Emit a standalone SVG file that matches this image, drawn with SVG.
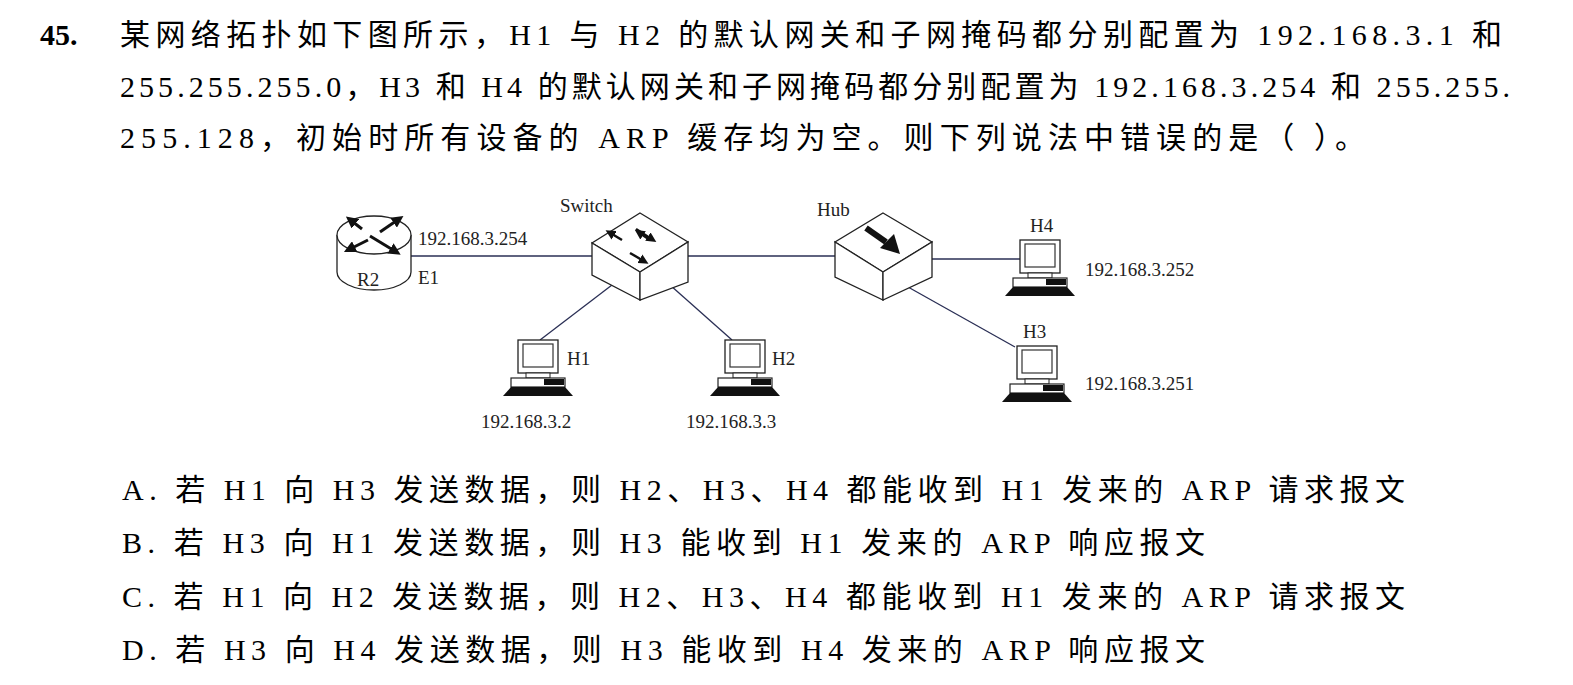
<svg xmlns="http://www.w3.org/2000/svg" xmlns:xlink="http://www.w3.org/1999/xlink" width="1573" height="685" viewBox="0 0 1573 685">
<style>
.q{font-family:"Liberation Serif","Noto Sans CJK SC",serif;font-size:30px;fill:#000}
.l{font-family:"Liberation Serif",serif;font-size:19px;fill:#222}
.ln{stroke:#2a2f55;stroke-width:1.3;fill:none}
.dev{fill:#fff;stroke:#222;stroke-width:1.3}
</style>
<defs>
<g id="pc">
<rect x="0" y="0" width="40" height="33" fill="#fff" stroke="#222" stroke-width="1.3"/>
<rect x="5" y="4" width="30" height="23" fill="#fff" stroke="#333" stroke-width="1.2"/>
<rect x="8" y="33" width="24" height="5" fill="#fff" stroke="#222" stroke-width="1"/>
<rect x="-7" y="38" width="54" height="9" fill="#fff" stroke="#222" stroke-width="1.2"/>
<rect x="26" y="39" width="20" height="6" fill="#111"/>
<polygon points="-7,47 47,47 55,56 -15,56" fill="#111"/>
</g>
<marker id="ah" markerWidth="4" markerHeight="4" refX="1" refY="2" orient="auto"><path d="M0,0 L4,2 L0,4 z" fill="#111"/></marker>
</defs>
<text class="q" x="40" y="45" font-weight="bold">45.</text>
<text class="q" x="120" y="45" textLength="1382" lengthAdjust="spacing">某网络拓扑如下图所示，H1 与 H2 的默认网关和子网掩码都分别配置为 192.168.3.1 和</text>
<text class="q" x="120" y="97" textLength="1390" lengthAdjust="spacing">255.255.255.0，H3 和 H4 的默认网关和子网掩码都分别配置为 192.168.3.254 和 255.255.</text>
<text class="q" x="120" y="148" textLength="1245" lengthAdjust="spacing">255.128，初始时所有设备的 ARP 缓存均为空。则下列说法中错误的是（   ）。</text>
<g id="connectors">
<line class="ln" x1="411" y1="256" x2="592" y2="256"/>
<line class="ln" x1="688" y1="256" x2="835" y2="256"/>
<line class="ln" x1="932" y1="259" x2="1020" y2="259"/>
<line class="ln" x1="908" y1="287" x2="1015" y2="347"/>
<line class="ln" x1="612" y1="285" x2="540" y2="340"/>
<line class="ln" x1="670" y1="285" x2="732" y2="340"/>
</g>
<g id="R2">
<path class="dev" d="M337,235 L337,272 A37,18 0 0 0 411,272 L411,235"/>
<ellipse class="dev" cx="374" cy="235" rx="37" ry="19"/>
<g stroke="#111" stroke-width="3" marker-end="url(#ah)">
<line x1="362" y1="229" x2="353" y2="222"/>
<line x1="370" y1="236" x2="393" y2="250"/>
<line x1="368" y1="240" x2="352" y2="248"/>
<line x1="380" y1="232" x2="396" y2="221"/>
</g>
<text class="l" x="357" y="286">R2</text>
</g>
<text class="l" x="418" y="245">192.168.3.254</text>
<text class="l" x="418" y="284">E1</text>
<g id="Switch">
<polygon class="dev" points="640,213 688,242 640,272 592,243"/>
<polygon class="dev" points="592,243 640,272 640,300 592,275"/>
<polygon class="dev" points="640,272 688,242 688,282 640,300"/>
<g stroke="#111" stroke-width="2.5" marker-end="url(#ah)">
<line x1="622" y1="240" x2="612" y2="234"/>
<line x1="636" y1="229" x2="650" y2="238"/>
<line x1="650" y1="240" x2="641" y2="234"/>
<line x1="630" y1="253" x2="642" y2="260"/>
</g>
<text class="l" x="560" y="212" font-size="16">Switch</text>
</g>
<g id="Hub">
<polygon class="dev" points="883,213 932,242 883,272 835,242"/>
<polygon class="dev" points="835,242 883,272 883,300 835,277"/>
<polygon class="dev" points="883,272 932,242 932,277 883,300"/>
<line x1="866" y1="228" x2="886" y2="242" stroke="#111" stroke-width="6"/>
<polygon points="880,248 900,254 894,234" fill="#111"/>
<text class="l" x="817" y="216" font-size="17">Hub</text>
</g>
<g id="H1"><use xlink:href="#pc" x="518" y="340"/><text class="l" x="567" y="365">H1</text><text class="l" x="481" y="428">192.168.3.2</text></g>
<g id="H2"><use xlink:href="#pc" x="725" y="340"/><text class="l" x="772" y="365">H2</text><text class="l" x="686" y="428">192.168.3.3</text></g>
<g id="H4"><use xlink:href="#pc" x="1020" y="240"/><text class="l" x="1030" y="232">H4</text><text class="l" x="1085" y="276">192.168.3.252</text></g>
<g id="H3"><use xlink:href="#pc" x="1017" y="346"/><text class="l" x="1023" y="338">H3</text><text class="l" x="1085" y="390">192.168.3.251</text></g>
<text class="q" x="122" y="500" textLength="1283" lengthAdjust="spacing">A.  若 H1 向 H3 发送数据，则 H2、H3、H4 都能收到 H1 发来的 ARP 请求报文</text>
<text class="q" x="122" y="553" textLength="1083" lengthAdjust="spacing">B.  若 H3 向 H1 发送数据，则 H3 能收到 H1 发来的 ARP 响应报文</text>
<text class="q" x="122" y="607" textLength="1283" lengthAdjust="spacing">C.  若 H1 向 H2 发送数据，则 H2、H3、H4 都能收到 H1 发来的 ARP 请求报文</text>
<text class="q" x="122" y="660" textLength="1083" lengthAdjust="spacing">D.  若 H3 向 H4 发送数据，则 H3 能收到 H4 发来的 ARP 响应报文</text>
</svg>
